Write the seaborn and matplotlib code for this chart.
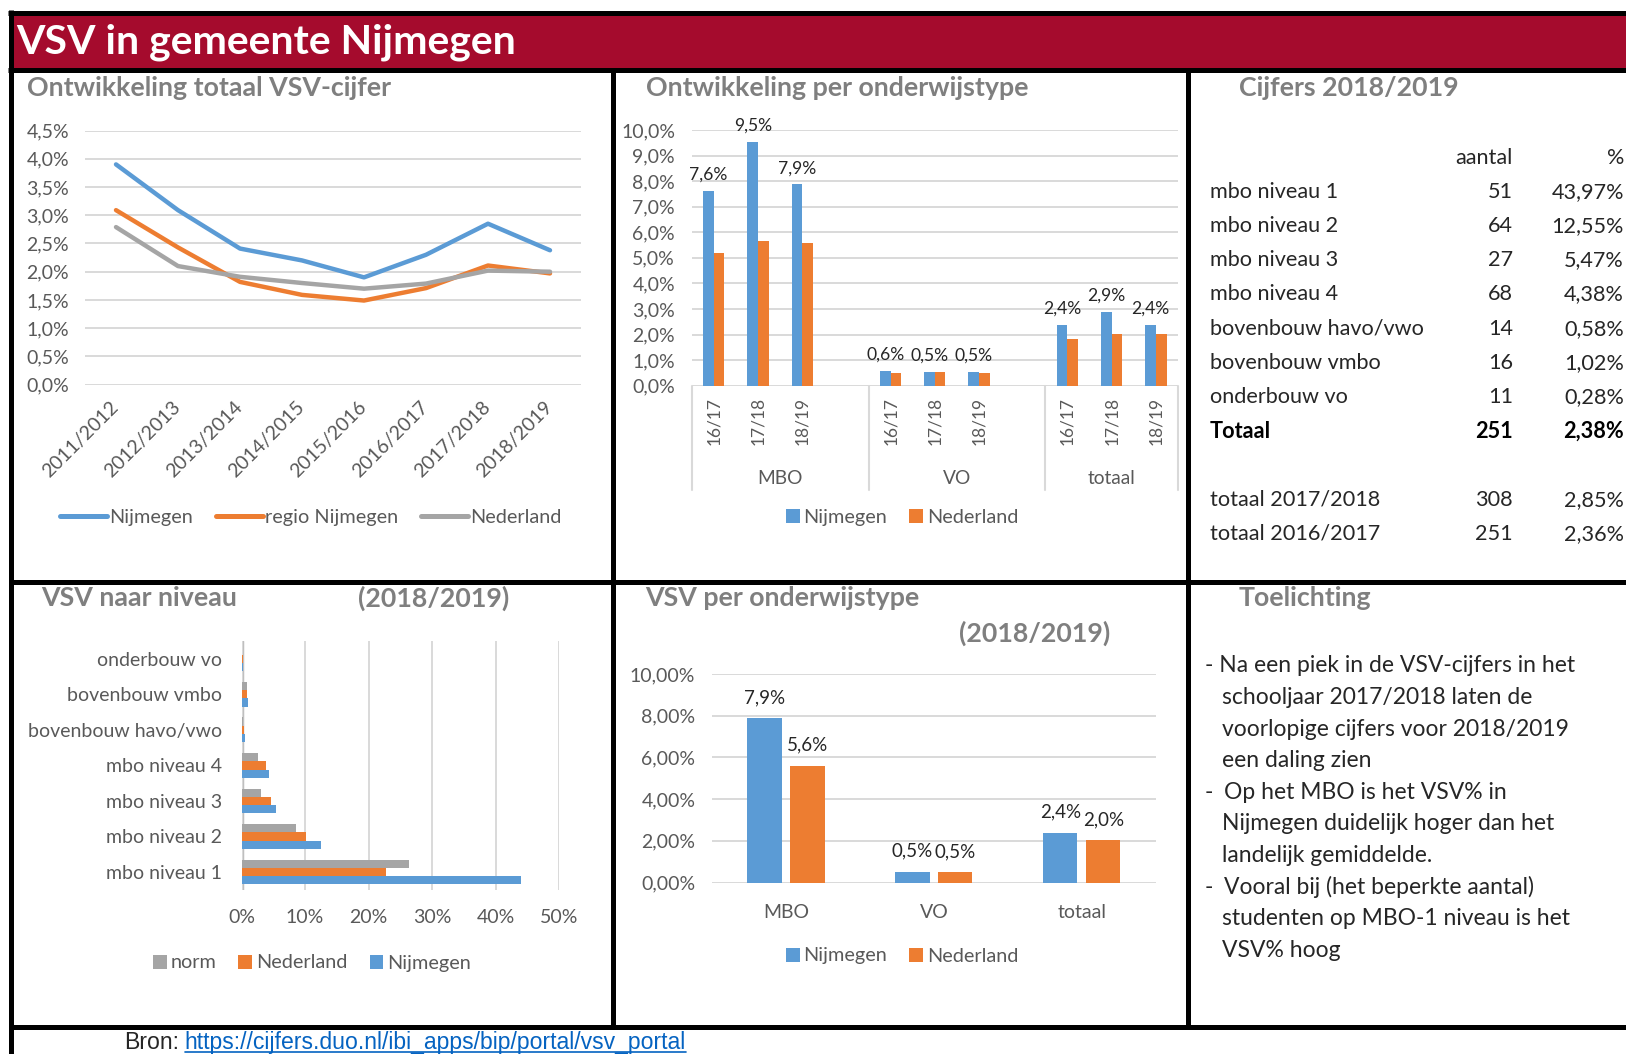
import numpy as np
import pandas as pd
import seaborn as sns
import matplotlib.pyplot as plt
from matplotlib.lines import Line2D
from matplotlib.patches import Patch, Rectangle

# ---------------- data ----------------
jaren = ["2011/2012", "2012/2013", "2013/2014", "2014/2015",
         "2015/2016", "2016/2017", "2017/2018", "2018/2019"]
nijmegen_totaal = [3.90, 3.09, 2.41, 2.20, 1.90, 2.30, 2.85, 2.38]
regio_totaal = [3.09, 2.43, 1.82, 1.59, 1.49, 1.71, 2.11, 1.97]
nederland_totaal = [2.79, 2.10, 1.91, 1.80, 1.70, 1.79, 2.02, 2.00]

typen = ["MBO", "VO", "totaal"]
schooljaren = ["16/17", "17/18", "18/19"]
slot_pos = [0, 1, 2, 4, 5, 6, 8, 9, 10]
nijmegen_type = [7.61, 9.52, 7.87, 0.57, 0.54, 0.52, 2.36, 2.87, 2.38]
nederland_type = [5.19, 5.66, 5.59, 0.48, 0.52, 0.48, 1.84, 2.02, 2.02]

niveaus = ["onderbouw vo", "bovenbouw vmbo", "bovenbouw havo/vwo", "mbo niveau 4",
           "mbo niveau 3", "mbo niveau 2", "mbo niveau 1"]
norm_niveau = [0.10, 0.90, 0.20, 2.60, 3.10, 8.60, 26.40]
nederland_niveau = [0.15, 0.90, 0.35, 3.80, 4.60, 10.10, 22.80]
nijmegen_niveau = [0.28, 1.02, 0.58, 4.38, 5.47, 12.55, 43.97]

nijmegen_1819 = [7.87, 0.52, 2.38]
nederland_1819 = [5.59, 0.48, 2.02]

tabel_rijen = ["mbo niveau 1", "mbo niveau 2", "mbo niveau 3", "mbo niveau 4",
               "bovenbouw havo/vwo", "bovenbouw vmbo", "onderbouw vo", "Totaal"]
tabel_aantal = [51, 64, 27, 68, 14, 16, 11, 251]
tabel_pct = [43.97, 12.55, 5.47, 4.38, 0.58, 1.02, 0.28, 2.38]
vorig_rijen = ["totaal 2017/2018", "totaal 2016/2017"]
vorig_aantal = [308, 251]
vorig_pct = [2.85, 2.36]

toelichting = [
    ("", "- Na een piek in de VSV-cijfers in het"),
    ("", "schooljaar 2017/2018 laten de"),
    ("", "voorlopige cijfers voor 2018/2019"),
    ("", "een daling zien"),
    ("-", "Op het MBO is het VSV% in"),
    ("", "Nijmegen duidelijk hoger dan het"),
    ("", "landelijk gemiddelde."),
    ("-", "Vooral bij (het beperkte aantal)"),
    ("", "studenten op MBO-1 niveau is het"),
    ("", "VSV% hoog"),
]

BLUE, ORANGE, GRAY = "#5B9BD5", "#ED7D31", "#A5A5A5"
RED = "#A50B2D"
GRID = "#D9D9D9"
TICK = "#595959"
TITLE = "#7F7F7F"
INK = "#262626"

sns.set_theme(style="white")
plt.rcParams["font.family"] = ["Lato", "DejaVu Sans"]

W, H = 1626, 1054
fig = plt.figure(figsize=(W / 100, H / 100), dpi=100)
fig.patch.set_facecolor("white")


def px_axes(x0, y0, x1, y1):
    return fig.add_axes([x0 / W, 1 - y1 / H, (x1 - x0) / W, (y1 - y0) / H])


def px_text(x, y, s, **kw):
    return fig.text(x / W, 1 - y / H, s, **kw)


def px_line(x0, y0, x1, y1, **kw):
    fig.add_artist(Line2D([x0 / W, x1 / W], [1 - y0 / H, 1 - y1 / H], **kw))


def pct(v, d=1):
    return f"{v:.{d}f}%".replace(".", ",")


def clean(ax, size=14):
    for s in ax.spines.values():
        s.set_visible(False)
    ax.tick_params(length=0, colors=TICK, labelsize=size)
    ax.set_xlabel("")
    ax.set_ylabel("")
    ax.set_axisbelow(True)


def legend(x, y, handles, labels, **kw):
    fig.legend(handles, labels, loc="center", bbox_to_anchor=(x / W, 1 - y / H),
               ncol=len(labels), frameon=False, fontsize=14.3, labelcolor=TICK, **kw)


def squares(colors):
    return [Patch(facecolor=c, edgecolor="none") for c in colors]


# ---------------- frame ----------------
fig.add_artist(Rectangle((10 / W, 1 - 67 / H), 1 - 10 / W, 52 / H,
                         transform=fig.transFigure, color=RED, zorder=0))
px_text(16, 42, "VSV in gemeente Nijmegen", color="white", fontsize=29.5,
        fontweight="bold", va="center")
frame = dict(color="black", lw=3.6, solid_capstyle="butt")
px_line(8, 12.5, W, 12.5, **frame)
px_line(8, 69.5, W, 69.5, **frame)
px_line(10.5, 10, 10.5, H, **frame)
px_line(612.5, 69, 612.5, 1027, **frame)
px_line(1188, 69, 1188, 1027, **frame)
px_line(10, 582, W, 582, **frame)
px_line(10, 1027, W, 1027, **frame)

ttl = dict(color=TITLE, fontsize=19.3, fontweight="bold", va="center")
px_text(27, 88, "Ontwikkeling totaal VSV-cijfer", **ttl)
px_text(646, 88, "Ontwikkeling per onderwijstype", **ttl)
px_text(1239, 88, "Cijfers 2018/2019", **ttl)
px_text(41.5, 598, "VSV naar niveau", **ttl)
px_text(358, 598, "(2018/2019)", **ttl)
px_text(645, 598, "VSV per onderwijstype", **ttl)
px_text(959, 633.5, "(2018/2019)", **ttl)
px_text(1239, 598, "Toelichting", **ttl)

# ---------------- panel 1: lines ----------------
ax1 = px_axes(85, 130.5, 581, 384.7)
df1 = pd.DataFrame({
    "jaar": jaren * 3,
    "vsv": nijmegen_totaal + regio_totaal + nederland_totaal,
    "reeks": ["Nijmegen"] * 8 + ["regio Nijmegen"] * 8 + ["Nederland"] * 8,
})
sns.lineplot(data=df1, x="jaar", y="vsv", hue="reeks", palette=[BLUE, ORANGE, GRAY],
             linewidth=3.2, legend=False, sort=False, ax=ax1)
ax1.set_xlim(-0.5, 7.5)
ax1.set_ylim(0, 4.5)
yt = np.arange(0, 4.51, 0.5)
ax1.set_yticks(yt, [pct(v) for v in yt])
clean(ax1)
ax1.yaxis.grid(True, color=GRID, lw=1.4)
ax1.tick_params(axis="y", pad=11.5)
ax1.tick_params(axis="x", pad=14, labelrotation=45)
plt.setp(ax1.get_xticklabels(), ha="right", va="center", rotation_mode="anchor")
legend(311, 517.5, [Line2D([], [], color=c, lw=3.6) for c in (BLUE, ORANGE, GRAY)],
       ["Nijmegen", "regio Nijmegen", "Nederland"],
       handlelength=2.35, handletextpad=0.12, columnspacing=1.15)

# ---------------- panel 2: bars per type ----------------
ax2 = px_axes(691.7, 130, 1178, 385.7)
df2 = pd.DataFrame({
    "slot": slot_pos * 2,
    "vsv": nijmegen_type + nederland_type,
    "reeks": ["Nijmegen"] * 9 + ["Nederland"] * 9,
})
sns.barplot(data=df2, x="slot", y="vsv", hue="reeks", palette=[BLUE, ORANGE],
            native_scale=True, width=0.48, saturation=1, linewidth=0,
            legend=False, ax=ax2)
ax2.set_xlim(-0.5, 10.5)
ax2.set_ylim(0, 10)
ax2.set_yticks(range(11), [pct(v) for v in range(11)])
ax2.set_xticks(slot_pos, schooljaren * 3)
clean(ax2)
ax2.yaxis.grid(True, color=GRID, lw=1.4)
ax2.tick_params(axis="y", pad=12)
ax2.tick_params(axis="x", pad=8, labelrotation=90, labelsize=12.5)
ax2.bar_label(ax2.containers[0], labels=[pct(v) for v in nijmegen_type],
              padding=6, fontsize=12.6, color=INK)
sep = ax2.get_xaxis_transform()
for xs in (-0.5, 3.5, 7.5, 10.5):
    ax2.plot([xs, xs], [0, -0.406], transform=sep, color=GRID, lw=1.5, clip_on=False)
for name, xc in zip(typen, (1.5, 5.5, 9.0)):
    ax2.text(xc, -0.361, name, transform=sep, ha="center", va="center",
             fontsize=13.8, color=TICK)
legend(902, 517.5, squares([BLUE, ORANGE]), ["Nijmegen", "Nederland"],
       handlelength=0.7, handleheight=0.7, handletextpad=0.2, columnspacing=1.1)

# ---------------- panel 3: table ----------------
ax3 = px_axes(1190, 140.5, 1626, 550.9)
ax3.set_xlim(1190, 1626)
ax3.set_ylim(10.5, -1.5)
ax3.axis("off")
fs = 15.6
ax3.text(1513, -1, "aantal", ha="right", va="center", fontsize=fs, color=INK)
ax3.text(1624, -1, "%", ha="right", va="center", fontsize=fs, color=INK)
for i, (r, a, p) in enumerate(zip(tabel_rijen, tabel_aantal, tabel_pct)):
    w = "bold" if r == "Totaal" else "normal"
    c = "black" if r == "Totaal" else INK
    cell = dict(fontweight=w, fontsize=fs, color=c, va="center")
    ax3.text(1210, i, r, ha="left", **cell)
    ax3.text(1513, i, str(a), ha="right", **cell)
    ax3.text(1624, i, pct(p, 2), ha="right", **cell)
for j, (r, a, p) in enumerate(zip(vorig_rijen, vorig_aantal, vorig_pct)):
    cell = dict(fontsize=fs, color=INK, va="center")
    ax3.text(1210, 9 + j, r, ha="left", **cell)
    ax3.text(1513, 9 + j, str(a), ha="right", **cell)
    ax3.text(1624, 9 + j, pct(p, 2), ha="right", **cell)

# ---------------- panel 4: horizontal bars per niveau ----------------
ax4 = px_axes(241.6, 641, 559, 889.8)
df4 = pd.DataFrame({
    "niveau": niveaus * 3,
    "vsv": norm_niveau + nederland_niveau + nijmegen_niveau,
    "reeks": ["norm"] * 7 + ["Nederland"] * 7 + ["Nijmegen"] * 7,
})
sns.barplot(data=df4, y="niveau", x="vsv", hue="reeks", order=niveaus,
            palette=[GRAY, ORANGE, BLUE], orient="h", width=0.7, saturation=1,
            linewidth=0, legend=False, ax=ax4)
ax4.set_xlim(0, 50)
ax4.set_ylim(6.5, -0.5)
ax4.set_xticks(range(0, 51, 10), [f"{v}%" for v in range(0, 51, 10)])
clean(ax4)
ax4.xaxis.grid(True, color=GRID, lw=1.4)
ax4.axvline(0, color="#BFBFBF", lw=2.5, zorder=0.5)
ax4.tick_params(axis="y", pad=14)
ax4.tick_params(axis="x", pad=14)
legend(312, 963, squares([GRAY, ORANGE, BLUE]), ["norm", "Nederland", "Nijmegen"],
       handlelength=0.7, handleheight=0.7, handletextpad=0.2, columnspacing=1.1)

# ---------------- panel 5: bars 2018/2019 ----------------
ax5 = px_axes(712, 674, 1155.7, 882.5)
df5 = pd.DataFrame({
    "type": typen * 2,
    "vsv": nijmegen_1819 + nederland_1819,
    "reeks": ["Nijmegen"] * 3 + ["Nederland"] * 3,
})
sns.barplot(data=df5, x="type", y="vsv", hue="reeks", order=typen,
            palette=[BLUE, ORANGE], width=0.58, gap=0.2, saturation=1,
            linewidth=0, legend=False, ax=ax5)
ax5.set_xlim(-0.5, 2.5)
ax5.set_ylim(0, 10)
ax5.set_yticks(range(0, 11, 2), [pct(v, 2) for v in range(0, 11, 2)])
clean(ax5)
ax5.yaxis.grid(True, color=GRID, lw=1.4)
ax5.tick_params(axis="y", pad=12)
ax5.tick_params(axis="x", pad=15.5)
ax5.bar_label(ax5.containers[0], labels=[pct(v) for v in nijmegen_1819],
              padding=9, fontsize=13.5, color=INK)
ax5.bar_label(ax5.containers[1], labels=[pct(v) for v in nederland_1819],
              padding=9, fontsize=13.5, color=INK)
legend(902, 956, squares([BLUE, ORANGE]), ["Nijmegen", "Nederland"],
       handlelength=0.7, handleheight=0.7, handletextpad=0.2, columnspacing=1.1)

# ---------------- panel 6: toelichting ----------------
note = dict(fontsize=16.5, color=INK, va="center")
for i, (dash, line) in enumerate(toelichting):
    y = 665.8 + i * 31.6
    if dash:
        px_text(1205, y, dash, **note)
        px_text(1224.5, y, line, **note)
    elif i == 0:
        px_text(1205, y, line, **note)
    else:
        px_text(1221.6, y, line, **note)

# ---------------- footer ----------------
foot = dict(fontsize=16.6, va="center", family=["Liberation Sans", "DejaVu Sans"])
px_text(124.4, 1042.5, "Bron:", color=INK, **foot)
url = px_text(184.6, 1042.5, "https://cijfers.duo.nl/ibi_apps/bip/portal/vsv_portal",
              color="#0563C1", **foot)
fig.canvas.draw()
bb = url.get_window_extent()
fig.add_artist(Line2D([bb.x0 / W, bb.x1 / W], [max(bb.y0 + 2.0, 2.0) / H] * 2,
                      color="#0563C1", lw=1.2))

fig.savefig("out.png", dpi=100)
